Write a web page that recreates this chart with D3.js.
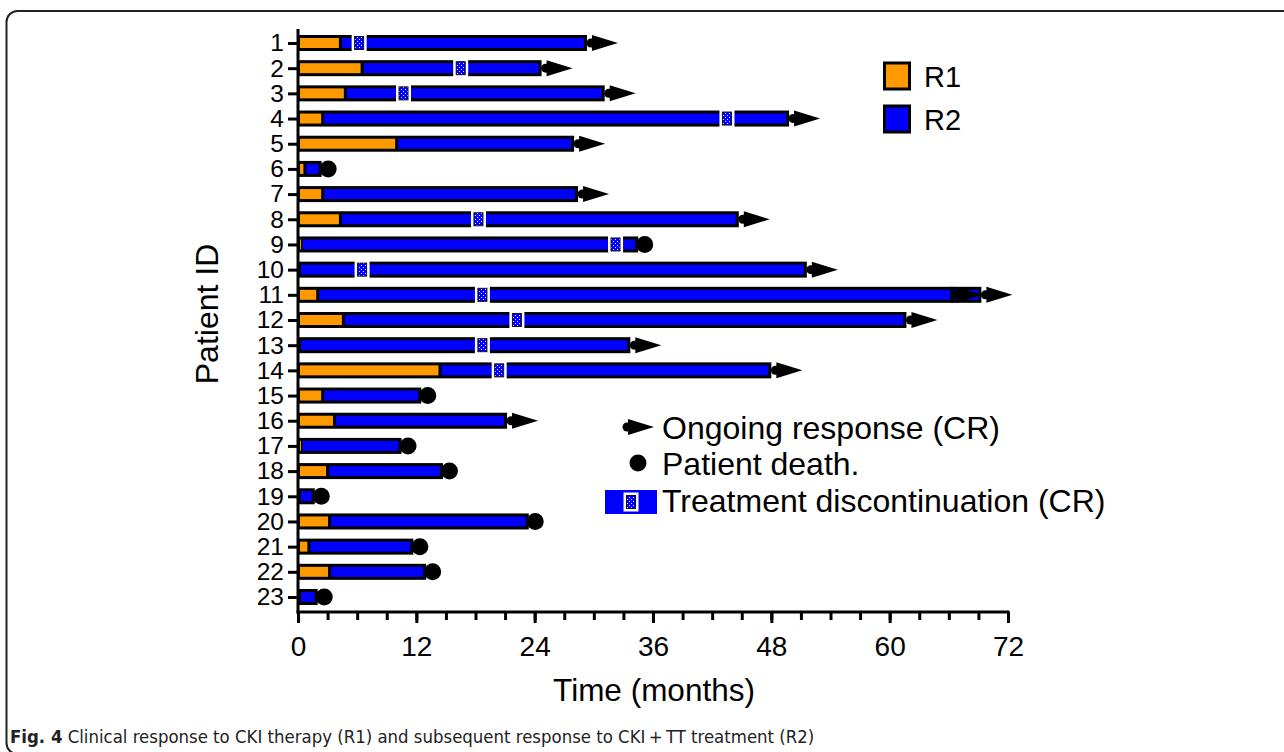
<!DOCTYPE html>
<html>
<head>
<meta charset="utf-8">
<script src="https://cdn.jsdelivr.net/npm/d3@7"></script>
<style>
  body { margin: 0; background: #fff; }
  svg { display: block; }
  text { font-family: "Liberation Sans", Arial, sans-serif; fill: #000; }
</style>
</head>
<body>
<svg id="chart" width="1284" height="752"></svg>
<script>
// patients and their response durations (months)
const patients = ["1","2","3","4","5","6","7","8","9","10","11","12","13","14","15","16","17","18","19","20","21","22","23"];
const r1End = [4.3, 6.5, 4.8, 2.5, 10.0, 0.7, 2.5, 4.3, 0.3, 0, 2.0, 4.6, 0, 14.4, 2.5, 3.7, 0.3, 3.0, 0, 3.2, 1.1, 3.2, 0];
const r2End = [29.3, 24.7, 31.1, 49.8, 28.0, 2.4, 28.4, 44.7, 34.5, 51.6, 69.3, 61.7, 33.7, 48.0, 12.5, 21.2, 10.5, 14.7, 1.7, 23.4, 11.7, 13.0, 2.0];
const outcome = ["ongoing","ongoing","ongoing","ongoing","ongoing","death","ongoing","ongoing","death","ongoing","ongoing","ongoing","ongoing","ongoing","death","ongoing","death","death","death","death","death","death","death"];
const discontinued = [6.2, 16.5, 10.7, 43.5, null, null, null, 18.3, 32.2, 6.5, 18.7, 22.2, 18.7, 20.4, null, null, null, null, null, null, null, null, null];
const extraArrow = [null, null, null, null, null, null, null, null, null, null, 66.3, null, null, null, null, null, null, null, null, null, null, null, null];
const xMajorTicks = [0, 12, 24, 36, 48, 60, 72];

const data = patients.map((p, i) => ({
  id: p, r1: r1End[i], end: r2End[i], outcome: outcome[i],
  disc: discontinued[i], extra: extraArrow[i]
}));

const svg = d3.select("#chart");
const x = d3.scaleLinear().domain([0, 72]).range([298, 1008]);
const y = d3.scalePoint().domain(patients).range([43, 597]);

const ORANGE = "#ff9900", BLUE = "#0000ff";

// dotted pattern for the discontinuation marker
const defs = svg.append("defs");
const pat = defs.append("pattern").attr("id", "dots")
  .attr("width", 4).attr("height", 4).attr("patternUnits", "userSpaceOnUse");
pat.append("rect").attr("width", 4).attr("height", 4).attr("fill", BLUE);
pat.append("rect").attr("x", 1).attr("y", 1).attr("width", 1).attr("height", 1).attr("fill", "#e8e8ff");
pat.append("rect").attr("x", 3).attr("y", 3).attr("width", 1).attr("height", 1).attr("fill", "#e8e8ff");

// figure frame
svg.append("rect")
  .attr("x", 6.5).attr("y", 11).attr("width", 1300).attr("height", 743)
  .attr("rx", 11).attr("fill", "none").attr("stroke", "#222").attr("stroke-width", 2);

function arrow(g, ex, cy) {
  g.append("circle").attr("cx", ex + 4).attr("cy", cy).attr("r", 4.5).attr("fill", "#000");
  g.append("path")
    .attr("d", `M${ex + 5},${cy - 8}L${ex + 31},${cy}L${ex + 5},${cy + 8}Z`)
    .attr("fill", "#000");
}

function discMarker(g, cx, cy) {
  g.append("rect").attr("x", cx - 7.5).attr("y", cy - 9.5).attr("width", 15).attr("height", 19)
    .attr("fill", "#fff");
  g.append("rect").attr("x", cx - 4.5).attr("y", cy - 6.5).attr("width", 9).attr("height", 13)
    .attr("fill", "url(#dots)").attr("stroke", "#111").attr("stroke-width", 1);
}

// bars
const rows = svg.append("g").selectAll("g").data(data).join("g");
rows.each(function(d) {
  const g = d3.select(this);
  const cy = y(d.id);
  const x0 = x(0), xe = x(d.end), xr = x(d.r1);
  g.append("rect").attr("x", x0).attr("y", cy - 8).attr("width", xe - x0).attr("height", 16)
    .attr("fill", "#000");
  if (d.r1 > 0) {
    g.append("rect").attr("x", x0 + 2).attr("y", cy - 5)
      .attr("width", Math.max(1, xr - x0 - 3.5)).attr("height", 10).attr("fill", ORANGE);
    g.append("rect").attr("x", xr + 1.5).attr("y", cy - 5)
      .attr("width", xe - xr - 4.5).attr("height", 10).attr("fill", BLUE);
  } else {
    g.append("rect").attr("x", x0 + 3).attr("y", cy - 5)
      .attr("width", xe - x0 - 6).attr("height", 10).attr("fill", BLUE);
  }
  if (d.extra != null) {
    const xa = x(d.extra);
    g.append("rect").attr("x", xa - 1.5).attr("y", cy - 8).attr("width", 3).attr("height", 16).attr("fill", "#000");
    arrow(g, xa, cy);
  }
  if (d.disc != null) discMarker(g, x(d.disc), cy);
  if (d.outcome === "ongoing") arrow(g, xe, cy);
  else g.append("circle").attr("cx", xe + 6.5).attr("cy", cy).attr("r", 8.5).attr("fill", "#000");
});

// axes
const xAxisMinor = svg.append("g").attr("transform", "translate(0,612)")
  .call(d3.axisBottom(x).tickValues(d3.range(0, 73, 3)).tickSize(8).tickFormat(""));
const xAxis = svg.append("g").attr("transform", "translate(0,612)")
  .call(d3.axisBottom(x).tickValues(xMajorTicks).tickSize(11).tickPadding(13));
const yAxis = svg.append("g").attr("transform", "translate(298,0)")
  .call(d3.axisLeft(y).tickSize(10).tickPadding(4));

[xAxisMinor, xAxis, yAxis].forEach(a => {
  a.select(".domain").remove();
  a.selectAll(".tick line").attr("stroke", "#000").attr("stroke-width", 3);
});
xAxis.selectAll("text").style("font-size", "28px");
yAxis.selectAll("text").style("font-size", "24.5px");

svg.append("line").attr("x1", 298).attr("x2", 298).attr("y1", 29).attr("y2", 613.5)
  .attr("stroke", "#000").attr("stroke-width", 3);
svg.append("line").attr("x1", 296.5).attr("x2", 1009.5).attr("y1", 612).attr("y2", 612)
  .attr("stroke", "#000").attr("stroke-width", 3);

// axis titles
svg.append("text").attr("x", 654).attr("y", 701).attr("text-anchor", "middle")
  .style("font-size", "31.5px").text("Time (months)");
svg.append("text").attr("transform", "translate(218,314) rotate(-90)").attr("text-anchor", "middle")
  .style("font-size", "32px").text("Patient ID");

// legend R1 / R2
const legend = [{ label: "R1", color: ORANGE, cy: 76 }, { label: "R2", color: BLUE, cy: 119 }];
legend.forEach(l => {
  svg.append("rect").attr("x", 884.5).attr("y", l.cy - 13).attr("width", 25).attr("height", 26)
    .attr("fill", l.color).attr("stroke", "#000").attr("stroke-width", 3);
  svg.append("text").attr("x", 924).attr("y", l.cy + 10.5).style("font-size", "29px").text(l.label);
});

// legend for markers
const lg = svg.append("g");
arrow(lg, 623, 427);
lg.append("text").attr("x", 662).attr("y", 439).style("font-size", "32px").text("Ongoing response (CR)");
lg.append("circle").attr("cx", 638).attr("cy", 463).attr("r", 8.5).attr("fill", "#000");
lg.append("text").attr("x", 662).attr("y", 475).style("font-size", "32px").text("Patient death.");
lg.append("rect").attr("x", 605).attr("y", 490).attr("width", 52).attr("height", 24).attr("fill", BLUE);
discMarker(lg, 631, 502);
lg.append("text").attr("x", 662).attr("y", 512).style("font-size", "32px").text("Treatment discontinuation (CR)");

// caption
const cap = svg.append("text").attr("x", 10).attr("y", 743)
  .style("font-family", "'DejaVu Sans Condensed', 'Liberation Sans Narrow', sans-serif")
  .style("font-size", "16px").style("fill", "#222");
cap.append("tspan").style("font-weight", "bold").text("Fig. 4");
cap.append("tspan").text(" Clinical response to CKI therapy (R1) and subsequent response to CKI\u2009+\u2009TT treatment (R2)");
const w = cap.node().getComputedTextLength();
cap.style("font-size", (16 * 805 / w) + "px");
</script>
</body>
</html>
